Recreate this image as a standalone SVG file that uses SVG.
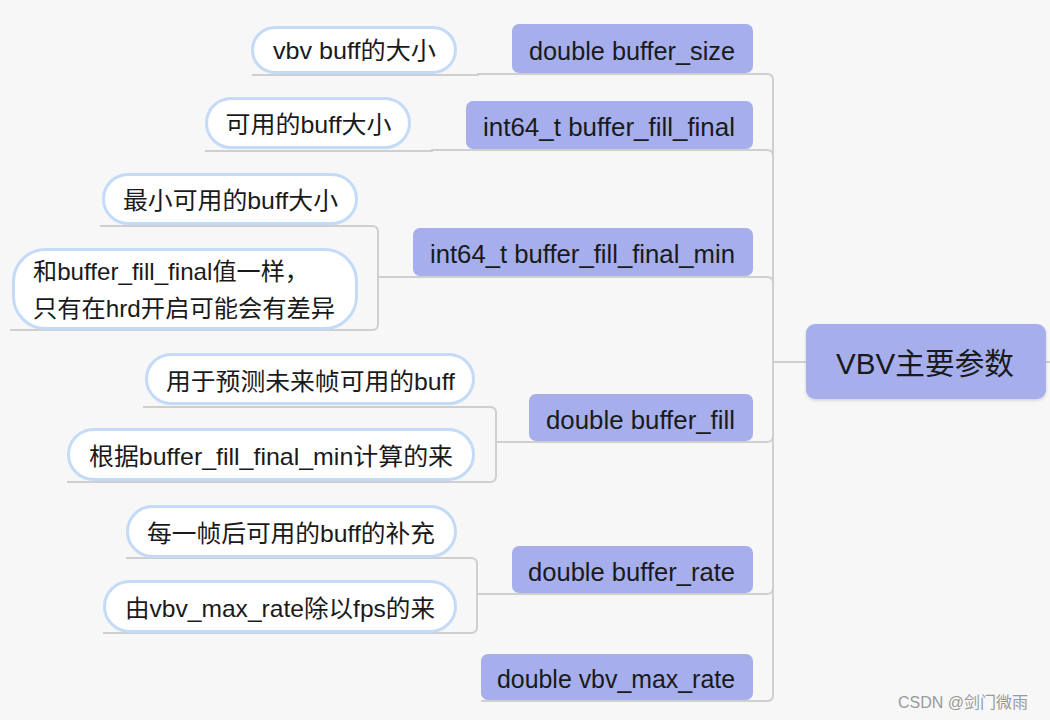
<svg xmlns="http://www.w3.org/2000/svg" width="1050" height="720" viewBox="0 0 1050 720">
<style>
.bg{fill:#f7f7f7}
.main{fill:#a6aeec}
.center{fill:#a6aeec}
.bub{fill:#ffffff;stroke:#c4dbf8;stroke-width:3}
.ln{fill:none;stroke:#cfcfcf;stroke-width:2}
.t{font-family:"Liberation Sans","Noto Sans CJK SC",sans-serif;font-size:24px;fill:#1a1a1a}
.tm{font-family:"Liberation Sans","Noto Sans CJK SC",sans-serif;font-size:25px;fill:#1a1a1a}
.tc{font-family:"Liberation Sans","Noto Sans CJK SC",sans-serif;font-size:30px;fill:#1a1a1a}
.wm{font-family:"Liberation Sans","Noto Sans CJK SC",sans-serif;font-size:16px;fill:#9a9a9a}
</style>
<defs>
<filter id="sh" x="-10%" y="-10%" width="120%" height="130%">
<feDropShadow dx="0" dy="1.5" stdDeviation="1.5" flood-color="#000" flood-opacity="0.15"/>
</filter>
</defs>
<rect class="bg" x="0" y="0" width="1050" height="720"/>
<g id="connectors">
<path class="ln" d="M806,362 H773 V80 Q773,74 767,74 H512"/>
<path class="ln" d="M806,362 H773 V156 Q773,150 767,150 H466"/>
<path class="ln" d="M806,362 H773 V283 Q773,277 767,277 H413"/>
<path class="ln" d="M806,362 H773 V436 Q773,442 767,442 H529"/>
<path class="ln" d="M806,362 H773 V588 Q773,594 767,594 H512"/>
<path class="ln" d="M806,362 H773 V695 Q773,701 767,701 H481"/>
<path class="ln" d="M1046,362 H1050"/>
<path class="ln" d="M512,74 H478 V75 H252"/>
<path class="ln" d="M466,150 H432 V151 H205"/>
<path class="ln" d="M413,277 H378 V232 Q378,226 372,226 H100"/>
<path class="ln" d="M413,277 H378 V324 Q378,330 372,330 H10"/>
<path class="ln" d="M529,442 H496 V413 Q496,407 490,407 H143"/>
<path class="ln" d="M529,442 H496 V476 Q496,482 490,482 H67"/>
<path class="ln" d="M512,594 H477 V564 Q477,558 471,558 H126"/>
<path class="ln" d="M512,594 H477 V627 Q477,633 471,633 H103"/>
</g>
<g id="center">
<rect class="center" x="806" y="324" width="240" height="75" rx="9" filter="url(#sh)"/>
<text class="tc" x="925" y="374" text-anchor="middle" textLength="178" lengthAdjust="spacingAndGlyphs">VBV主要参数</text>
</g>
<g id="n-buffer_size">
<rect class="main" x="512" y="24" width="241" height="49" rx="7"/>
<text class="tm" x="632" y="60" text-anchor="middle" textLength="206" lengthAdjust="spacingAndGlyphs">double buffer_size</text>
</g>
<g id="n-buffer_fill_final">
<rect class="main" x="466" y="101" width="287" height="48" rx="7"/>
<text class="tm" x="609" y="136" text-anchor="middle" textLength="252" lengthAdjust="spacingAndGlyphs">int64_t buffer_fill_final</text>
</g>
<g id="n-buffer_fill_final_min">
<rect class="main" x="413" y="228" width="340" height="48" rx="7"/>
<text class="tm" x="582.5" y="263" text-anchor="middle" textLength="305" lengthAdjust="spacingAndGlyphs">int64_t buffer_fill_final_min</text>
</g>
<g id="n-buffer_fill">
<rect class="main" x="529" y="394" width="224" height="47" rx="7"/>
<text class="tm" x="640.5" y="429" text-anchor="middle" textLength="189" lengthAdjust="spacingAndGlyphs">double buffer_fill</text>
</g>
<g id="n-buffer_rate">
<rect class="main" x="512" y="546" width="241" height="47" rx="7"/>
<text class="tm" x="631.5" y="581" text-anchor="middle" textLength="207" lengthAdjust="spacingAndGlyphs">double buffer_rate</text>
</g>
<g id="n-vbv_max_rate">
<rect class="main" x="481" y="654" width="272" height="46" rx="7"/>
<text class="tm" x="616" y="688" text-anchor="middle" textLength="238" lengthAdjust="spacingAndGlyphs">double vbv_max_rate</text>
</g>
<g id="b1">
<rect class="bub" x="252.5" y="27.5" width="203" height="45" rx="22.5"/>
<text class="t" x="354.5" y="59" text-anchor="middle" textLength="163" lengthAdjust="spacingAndGlyphs">vbv buff的大小</text>
</g>
<g id="b2">
<rect class="bub" x="206.5" y="98.5" width="203" height="49" rx="24.5"/>
<text class="t" x="308.5" y="133" text-anchor="middle" textLength="166" lengthAdjust="spacingAndGlyphs">可用的buff大小</text>
</g>
<g id="b3">
<rect class="bub" x="103.5" y="174.5" width="253" height="49" rx="24.5"/>
<text class="t" x="230.5" y="209" text-anchor="middle" textLength="215" lengthAdjust="spacingAndGlyphs">最小可用的buff大小</text>
</g>
<g id="b4">
<rect class="bub" x="13.5" y="249.5" width="343" height="79" rx="32"/>
<text class="t" x="33" y="280" textLength="276" lengthAdjust="spacingAndGlyphs">和buffer_fill_final值一样，</text>
<text class="t" x="33" y="317" textLength="302" lengthAdjust="spacingAndGlyphs">只有在hrd开启可能会有差异</text>
</g>
<g id="b5">
<rect class="bub" x="146.5" y="354.5" width="327" height="49" rx="24.5"/>
<text class="t" x="310.5" y="390" text-anchor="middle" textLength="289" lengthAdjust="spacingAndGlyphs">用于预测未来帧可用的buff</text>
</g>
<g id="b6">
<rect class="bub" x="68.5" y="429.5" width="405" height="50" rx="25"/>
<text class="t" x="271" y="465" text-anchor="middle" textLength="364" lengthAdjust="spacingAndGlyphs">根据buffer_fill_final_min计算的来</text>
</g>
<g id="b7">
<rect class="bub" x="127.5" y="506.5" width="328" height="50" rx="25"/>
<text class="t" x="291" y="542" text-anchor="middle" textLength="288" lengthAdjust="spacingAndGlyphs">每一帧后可用的buff的补充</text>
</g>
<g id="b8">
<rect class="bub" x="104.5" y="581.5" width="351" height="50" rx="25"/>
<text class="t" x="280" y="617" text-anchor="middle" textLength="310" lengthAdjust="spacingAndGlyphs">由vbv_max_rate除以fps的来</text>
</g>
<text class="wm" x="898" y="708">CSDN @剑门微雨</text>
</svg>
